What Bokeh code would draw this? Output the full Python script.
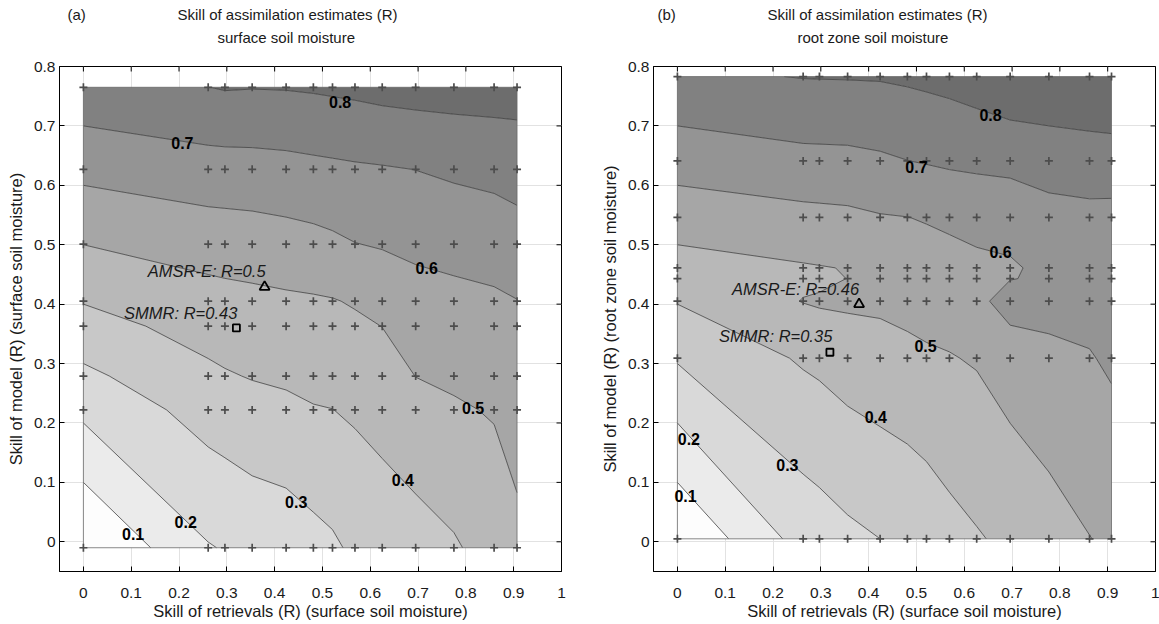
import numpy as np
from bokeh.plotting import figure
from bokeh.models import Range1d, FixedTicker, NumeralTickFormatter, Label, Title
from bokeh.layouts import row
from bokeh.embed import file_html
from bokeh.resources import INLINE

# ---------------- data ----------------
contour_levels = [0.1, 0.2, 0.3, 0.4, 0.5, 0.6, 0.7, 0.8]
band_colors = ["#fdfdfd", "#ebebeb", "#d9d9d9", "#c8c8c8", "#b8b8b8",
               "#a6a6a6", "#949494", "#818181", "#6d6d6d"]
x_ticks = [0, 0.1, 0.2, 0.3, 0.4, 0.5, 0.6, 0.7, 0.8, 0.9, 1]
y_ticks = [0, 0.1, 0.2, 0.3, 0.4, 0.5, 0.6, 0.7, 0.8]
x_lo, x_hi = -0.05, 1.0
y_lo, y_hi = -0.05, 0.8

# panel (a): surface soil moisture
retr_a = [0, 0.261, 0.296, 0.353, 0.424, 0.481, 0.521, 0.568, 0.625, 0.695, 0.775, 0.859, 0.907]
model_a = [-0.01, 0.222, 0.279, 0.363, 0.405, 0.501, 0.627, 0.765]
skill_a = [
    [-0.010, 0.194, 0.206, 0.228, 0.239, 0.267, 0.285, 0.317, 0.332, 0.354, 0.389, 0.440, 0.472],
    [0.222, 0.339, 0.350, 0.366, 0.380, 0.395, 0.399, 0.413, 0.437, 0.472, 0.489, 0.507, 0.542],
    [0.279, 0.380, 0.392, 0.405, 0.414, 0.424, 0.429, 0.442, 0.463, 0.501, 0.515, 0.532, 0.560],
    [0.363, 0.437, 0.444, 0.453, 0.461, 0.468, 0.473, 0.484, 0.501, 0.544, 0.556, 0.568, 0.585],
    [0.405, 0.464, 0.470, 0.477, 0.485, 0.490, 0.495, 0.508, 0.534, 0.566, 0.576, 0.586, 0.598],
    [0.501, 0.541, 0.545, 0.550, 0.561, 0.571, 0.582, 0.598, 0.607, 0.619, 0.630, 0.641, 0.656],
    [0.627, 0.659, 0.660, 0.663, 0.669, 0.677, 0.682, 0.688, 0.693, 0.701, 0.716, 0.728, 0.741],
    [0.765, 0.799, 0.806, 0.803, 0.805, 0.810, 0.815, 0.821, 0.831, 0.838, 0.841, 0.842, 0.839],
]
amsr_a = [0.379, 0.429]
smmr_a = [0.320, 0.360]

# panel (b): root zone soil moisture
retr_b = [0, 0.263, 0.297, 0.356, 0.424, 0.481, 0.521, 0.569, 0.626, 0.696, 0.777, 0.862, 0.908]
model_b = [0.005, 0.309, 0.405, 0.443, 0.461, 0.546, 0.641, 0.783]
skill_b = [
    [0.005, 0.238, 0.252, 0.278, 0.300, 0.315, 0.335, 0.367, 0.392, 0.420, 0.450, 0.498, 0.515],
    [0.309, 0.411, 0.421, 0.444, 0.461, 0.477, 0.487, 0.495, 0.508, 0.545, 0.585, 0.594, 0.614],
    [0.405, 0.503, 0.511, 0.515, 0.517, 0.526, 0.534, 0.540, 0.575, 0.640, 0.620, 0.630, 0.644],
    [0.443, 0.485, 0.483, 0.501, 0.538, 0.546, 0.553, 0.559, 0.578, 0.597, 0.612, 0.644, 0.656],
    [0.461, 0.492, 0.496, 0.503, 0.548, 0.556, 0.561, 0.567, 0.580, 0.594, 0.612, 0.651, 0.662],
    [0.546, 0.572, 0.575, 0.580, 0.594, 0.599, 0.606, 0.617, 0.629, 0.620, 0.667, 0.675, 0.672],
    [0.641, 0.673, 0.674, 0.676, 0.686, 0.699, 0.706, 0.715, 0.721, 0.735, 0.743, 0.751, 0.755],
    [0.783, 0.803, 0.804, 0.805, 0.807, 0.814, 0.821, 0.830, 0.848, 0.869, 0.880, 0.890, 0.894],
]
amsr_b = [0.380, 0.400]
smmr_b = [0.319, 0.319]

FONT = "Liberation Sans"
NB = "\u00a0"


def make_panel(xs, ys, zs, amsr, smmr, ylabel, tag, subtitle, amsr_txt, smmr_txt,
               txt_pos, clabels, left, right, tag_off, sub_off):
    p = figure(frame_width=502, frame_height=505,
               x_range=Range1d(x_lo, x_hi), y_range=Range1d(y_lo, y_hi),
               output_backend="svg", toolbar_location=None,
               min_border_left=left, min_border_right=right,
               min_border_top=65, min_border_bottom=53,
               background_fill_color="white", border_fill_color="white")
    p.outline_line_color = "black"
    p.outline_line_width = 1

    # axes
    xa, ya = p.xaxis[0], p.yaxis[0]
    xa.ticker = FixedTicker(ticks=x_ticks)
    ya.ticker = FixedTicker(ticks=y_ticks)
    for ax in (xa, ya):
        ax.formatter = NumeralTickFormatter(format="0.[0]")
        ax.major_tick_in = 5
        ax.major_tick_out = 0
        ax.minor_tick_line_color = None
        ax.axis_line_color = "black"
        ax.major_tick_line_color = "black"
        ax.major_label_text_font = FONT
        ax.major_label_text_font_size = "15.5px"
        ax.major_label_text_color = "#1a1a1a"
        ax.axis_label_text_font = FONT
        ax.axis_label_text_font_size = "16.5px"
        ax.axis_label_text_font_style = "normal"
        ax.axis_label_text_color = "#1a1a1a"
    xa.axis_label = "Skill of retrievals (R) (surface soil moisture)"
    ya.axis_label = ylabel
    xa.major_label_standoff = 16
    xa.axis_label_standoff = 1
    ya.major_label_standoff = 4
    ya.axis_label_standoff = 6

    p.xgrid.ticker = FixedTicker(ticks=x_ticks)
    p.ygrid.ticker = FixedTicker(ticks=y_ticks)
    p.grid.grid_line_color = "#e2e2e2"
    p.grid.grid_line_width = 1

    # filled contours
    z = np.array(zs)
    p.contour(x=xs, y=ys, z=z, levels=[-0.05] + contour_levels + [1.0],
              fill_color=band_colors, line_color="#383838", line_width=0.75)
    # domain edge
    p.quad(left=min(xs), right=max(xs), bottom=min(ys), top=max(ys),
           fill_color=None, line_color="#6a6a6a", line_width=0.8)

    # experiment grid crosses
    gx, gy = np.meshgrid(xs, ys)
    p.scatter(gx.ravel(), gy.ravel(), marker="cross", size=8,
              line_color="#4d4d4d", line_width=1.7)

    # inward ticks on top and right frame edges (clipped half of a dash)
    p.scatter(x_ticks, [y_hi] * len(x_ticks), marker="dash", angle=np.pi / 2, size=10,
              line_color="black", line_width=1)
    p.scatter([x_hi] * len(y_ticks), y_ticks, marker="dash", size=10,
              line_color="black", line_width=1)

    # AMSR-E / SMMR markers
    p.scatter([amsr[0]], [amsr[1]], marker="triangle", size=10, fill_color=None,
              line_color="black", line_width=1.8)
    p.scatter([smmr[0]], [smmr[1]], marker="square", size=7, fill_color=None,
              line_color="black", line_width=1.8)

    for (tx, ty), t in zip(txt_pos, [amsr_txt, smmr_txt]):
        p.add_layout(Label(x=tx, y=ty, text=t, text_align="right", text_baseline="middle",
                           text_font=FONT, text_font_style="italic",
                           text_font_size="16.5px", text_color="#1a1a1a"))

    for cx, cy, t in clabels:
        p.add_layout(Label(x=cx, y=cy, text=t, text_align="center", text_baseline="middle",
                           text_font=FONT, text_font_style="bold",
                           text_font_size="16px", text_color="black"))

    # titles: spacer, subtitle, main title line (stacked upward from the frame)
    p.add_layout(Title(text=NB, standoff=3, text_font=FONT, text_font_size="14px",
                       text_font_style="normal"), "above")
    p.add_layout(Title(text=subtitle, align="left", offset=sub_off, standoff=0,
                       text_font=FONT, text_font_size="15px", text_font_style="normal",
                       text_color="#1a1a1a"), "above")
    p.add_layout(Title(text=tag + NB * 22 + "Skill of assimilation estimates (R)",
                       align="left", offset=tag_off, standoff=7,
                       text_font=FONT, text_font_size="15px", text_font_style="normal",
                       text_color="#1a1a1a"), "above")
    return p


pa = make_panel(retr_a, model_a, skill_a, amsr_a, smmr_a,
                "Skill of model (R) (surface soil moisture)", "(a)", "surface soil moisture",
                "AMSR-E: R=0.5", "SMMR: R=0.43",
                [(0.381, 0.456), (0.322, 0.385)],
                [(0.537, 0.741, "0.8"), (0.207, 0.672, "0.7"), (0.718, 0.461, "0.6"),
                 (0.815, 0.226, "0.5"), (0.668, 0.104, "0.4"), (0.445, 0.067, "0.3"),
                 (0.214, 0.034, "0.2"), (0.104, 0.013, "0.1")],
                59, 30, 8, 158)

pb = make_panel(retr_b, model_b, skill_b, amsr_b, smmr_b,
                "Skill of model (R) (root zone soil moisture)", "(b)", "root zone soil moisture",
                "AMSR-E: R=0.46", "SMMR: R=0.35",
                [(0.380, 0.426), (0.324, 0.346)],
                [(0.655, 0.718, "0.8"), (0.500, 0.631, "0.7"), (0.676, 0.488, "0.6"),
                 (0.519, 0.330, "0.5"), (0.415, 0.210, "0.4"), (0.230, 0.129, "0.3"),
                 (0.024, 0.173, "0.2"), (0.017, 0.077, "0.1")],
                62, 4, 4, 144)

layout = row(pa, pb)
open("out.html", "w").write(file_html(layout, INLINE))
